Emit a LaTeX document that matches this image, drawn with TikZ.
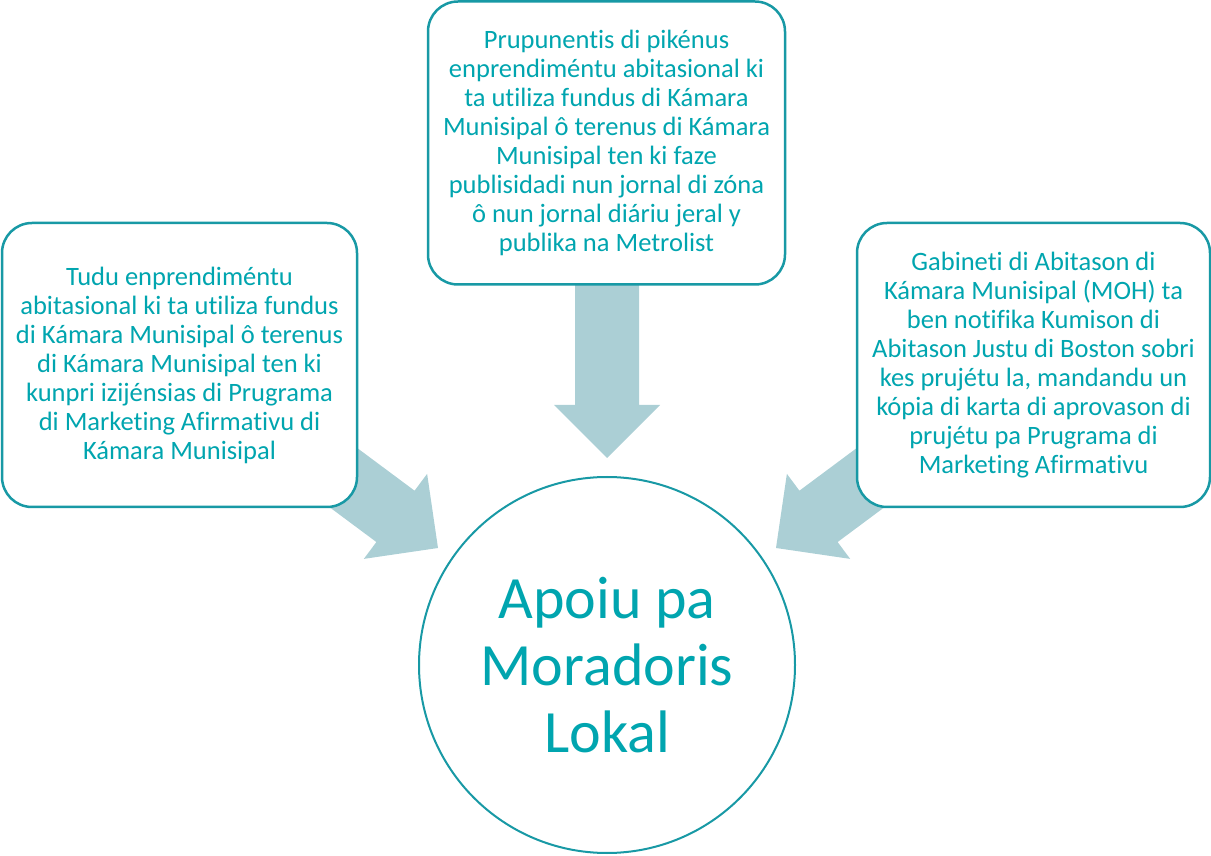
\documentclass[tikz,border=0pt]{standalone}
\usepackage{fontspec}
\setmainfont{Carlito}[Ligatures={NoCommon}]
\definecolor{boxline}{HTML}{1899A5}
\definecolor{txt}{HTML}{00A5AF}
\definecolor{arrowfill}{HTML}{ABCFD5}
\begin{document}
\begin{tikzpicture}[x=1pt,y=1pt,
  infobox/.style={draw=boxline, line width=2.5pt, fill=white, rounded corners=30pt,
    text=txt, align=center, inner sep=0pt, font=\fontsize{26.5}{29}\selectfont},
  hub/.style={circle, draw=boxline, line width=2pt, fill=white, text=txt, align=center,
    minimum size=376pt, inner sep=0pt, font=\fontsize{60}{67}\selectfont},
  blockarrow/.style={fill=arrowfill, draw=none}]
\useasboundingbox (0,0) rectangle (1211,855);

% block arrows (tip at origin, pointing along +x, drawn before the boxes)
\newcommand{\blockarrowshape}{(-200,-32) -- (-53,-32) -- (-53,-53) -- (0,0) -- (-53,53) -- (-53,32) -- (-200,32) -- cycle}
\coordinate (tipTop) at (607,397);
\coordinate (tipLeft) at (438,307);
\coordinate (tipRight) at (776,307);
\begin{scope}[shift={(tipTop)}, rotate=-90]
  \fill[blockarrow] \blockarrowshape;
\end{scope}
\begin{scope}[shift={(tipLeft)}, rotate=-36.65]
  \fill[blockarrow] \blockarrowshape;
\end{scope}
\begin{scope}[shift={(tipRight)}, rotate=-143.35]
  \fill[blockarrow] \blockarrowshape;
\end{scope}

\node[infobox, minimum width=355pt, minimum height=284pt] (left) at (179.5,490)
 {Tudu enprendiméntu\\abitasional ki ta utiliza fundus\\di Kámara Munisipal ô terenus\\di Kámara Munisipal ten ki\\kunpri izijénsias di Prugrama\\di Marketing Afirmativu di\\Kámara Munisipal};

\node[infobox, minimum width=357pt, minimum height=283pt] (top) at (606.5,712)
 {Prupunentis di pikénus\\enprendiméntu abitasional ki\\ta utiliza fundus di Kámara\\Munisipal ô terenus di Kámara\\Munisipal ten ki faze\\publisidadi nun jornal di zóna\\ô nun jornal diáriu jeral y\\publika na Metrolist};

\node[infobox, minimum width=353pt, minimum height=284pt] (right) at (1033.5,490)
 {Gabineti di Abitason di\\Kámara Munisipal (MOH) ta\\ben notifika Kumison di\\Abitason Justu di Boston sobri\\kes prujétu la, mandandu un\\kópia di karta di aprovason di\\prujétu pa Prugrama di\\Marketing Afirmativu};

\node[hub] (hub) at (607,190) {Apoiu pa\\Moradoris\\Lokal};
\end{tikzpicture}
\end{document}
